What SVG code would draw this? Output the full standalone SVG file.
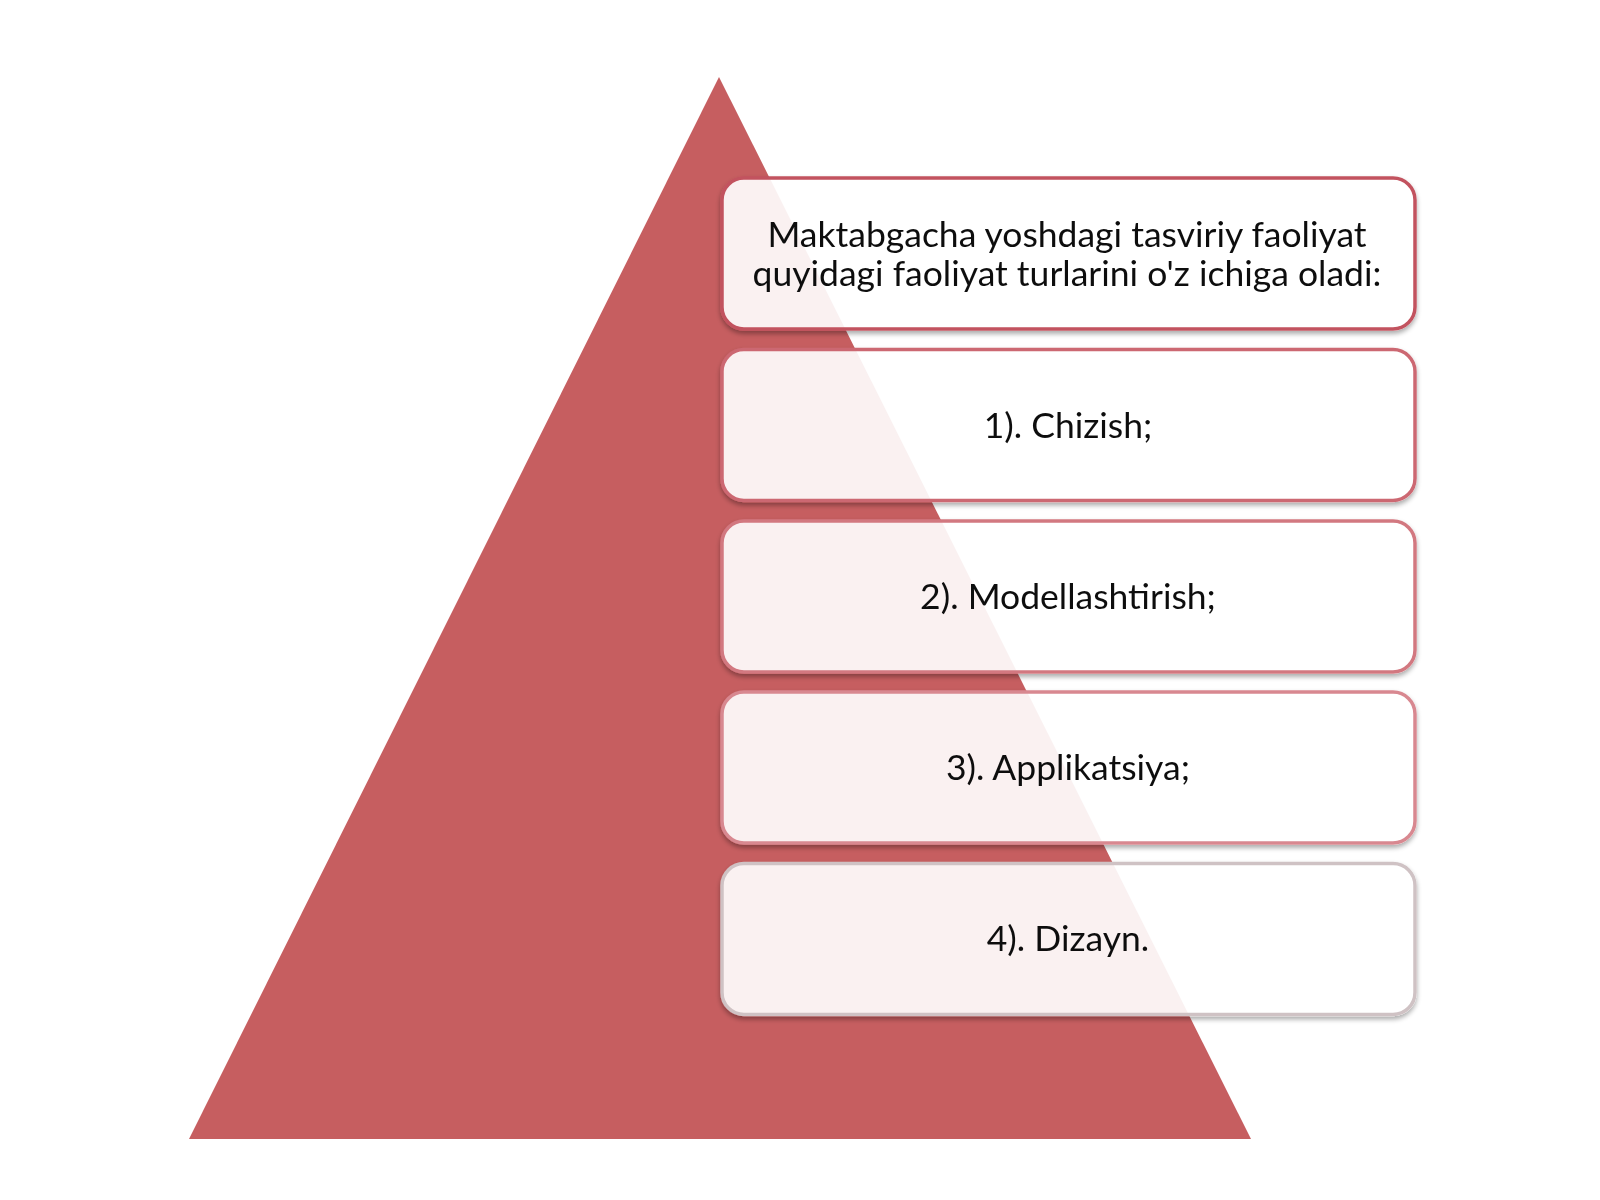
<svg xmlns="http://www.w3.org/2000/svg" width="1600" height="1200" viewBox="0 0 1600 1200">
<defs>
<style>
.box{fill:#ffffff;fill-opacity:0.91;stroke-width:3.5}
.t{font-family:Lato,"Carlito","Liberation Sans",sans-serif;font-size:35.5px;fill:#111;text-anchor:middle}
</style>
<filter id="sh" x="-5%" y="-10%" width="110%" height="130%">
<feGaussianBlur in="SourceAlpha" stdDeviation="2.5"/>
<feOffset dy="3"/>
<feComponentTransfer><feFuncA type="linear" slope="0.35"/></feComponentTransfer>
<feComposite in2="SourceAlpha" operator="out"/>
<feMerge><feMergeNode/><feMergeNode in="SourceGraphic"/></feMerge>
</filter>
</defs>
<rect width="1600" height="1200" fill="#ffffff"/>
<g id="pyramid">
<polygon points="719,77 1251,1139 189,1139" fill="#c65e60"/>
</g>
<g id="connectors"></g>
<g id="node-title" filter="url(#sh)">
<rect class="box" x="722" y="178" width="693" height="151" rx="22" stroke="#c2525e"/>
<text class="t" x="1067" y="247">Maktabgacha yoshdagi tasviriy faoliyat</text>
<text class="t" x="1067" y="286">quyidagi faoliyat turlarini o'z ichiga oladi:</text>
</g>
<g id="node-1" filter="url(#sh)">
<rect class="box" x="722" y="349.5" width="693" height="151" rx="22" stroke="#cc6872"/>
<text class="t" x="1068" y="438">1). Chizish;</text>
</g>
<g id="node-2" filter="url(#sh)">
<rect class="box" x="722" y="521" width="693" height="151" rx="22" stroke="#d27880"/>
<text class="t" x="1068" y="609">2). Modellashtirish;</text>
</g>
<g id="node-3" filter="url(#sh)">
<rect class="box" x="722" y="692" width="693" height="151" rx="22" stroke="#d88890"/>
<text class="t" x="1068" y="780">3). Applikatsiya;</text>
</g>
<g id="node-4" filter="url(#sh)">
<rect class="box" x="722" y="863.5" width="693" height="151" rx="22" stroke="#cfc2c4"/>
<text class="t" x="1068" y="951">4). Dizayn.</text>
</g>
</svg>
